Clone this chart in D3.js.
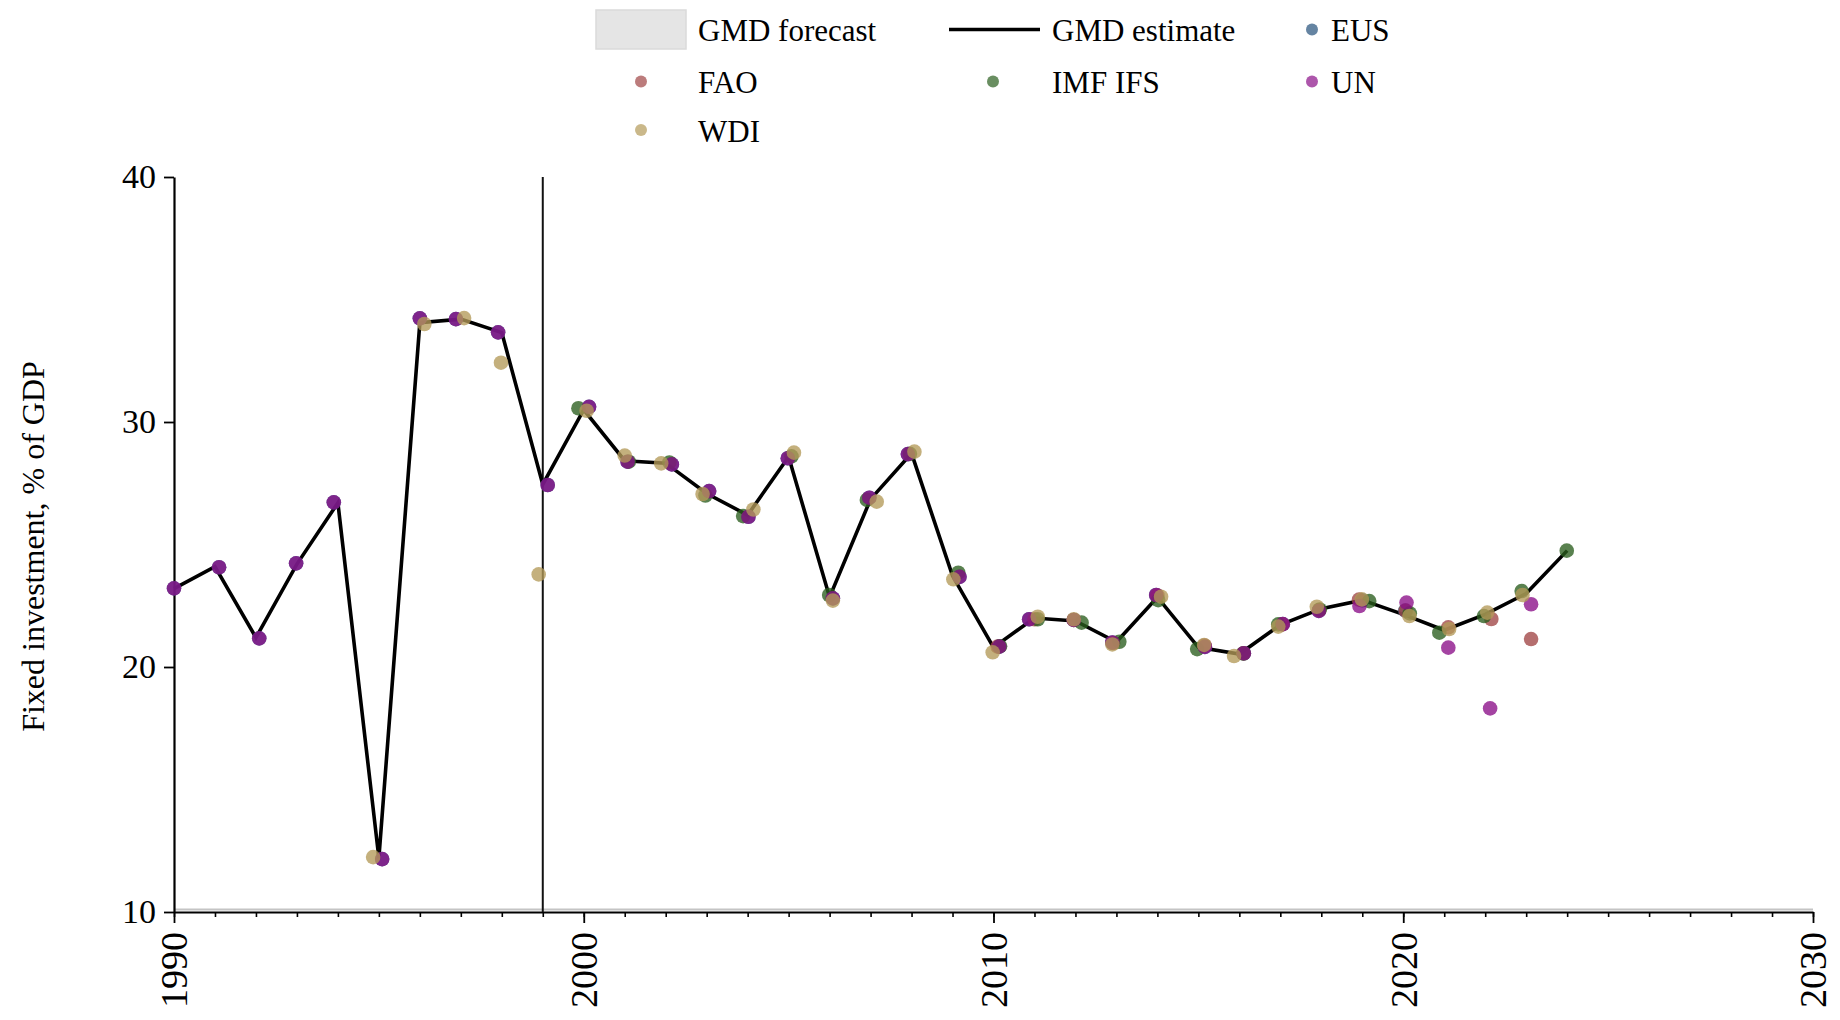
<!DOCTYPE html>
<html>
<head>
<meta charset="utf-8">
<script src="https://cdn.jsdelivr.net/npm/d3@7"></script>
<style>
  html, body { margin: 0; padding: 0; background: #ffffff; }
  svg { display: block; }
  svg text { font-family: "Liberation Serif", "Times New Roman", Times, Tinos, "Nimbus Roman", "DejaVu Serif", "Noto Serif", serif !important; }
</style>
</head>
<body>
<svg id="chart" width="1840" height="1020"></svg>
<script>
// ---------- DATA ----------
const xTickLabels = [1990, 2000, 2010, 2020, 2030];
const yTickLabels = [10, 20, 30, 40];
const forecastStartYear = 1999;

const gmdYears = [1990,1991,1992,1993,1994,1995,1996,1997,1998,1999,2000,2001,2002,2003,2004,2005,2006,2007,2008,2009,2010,2011,2012,2013,2014,2015,2016,2017,2018,2019,2020,2021,2022,2023,2024];
const gmdValues = [23.2,24.1,21.2,24.2,26.7,12.2,34.05,34.2,33.65,27.45,30.5,28.42,28.32,27.08,26.2,28.58,22.85,26.85,28.72,23.72,20.8,22.0,21.88,21.02,22.85,20.8,20.53,21.72,22.38,22.73,22.15,21.5,22.15,23.0,24.75];

// source observations (x positions as drawn, slightly jittered around the year)
const eusX = [1990.0,1991.1,1992.08,1992.98,1993.9,1995.08,1996.0,1996.88,1997.91,1999.12,2000.13,2001.07,2002.15,2003.06,2004.02,2004.98,2006.08,2006.97,2007.91,2009.17,2010.14,2010.87,2011.96,2012.9,2013.97,2015.16,2016.11,2017.06,2017.94,2019.0,2020.05];
const eusY = [23.21,24.07,21.17,24.23,26.72,12.16,34.23,34.2,33.66,27.43,30.62,28.38,28.27,27.18,26.13,28.52,22.8,26.91,28.69,23.68,20.83,21.95,21.92,21.0,22.94,20.82,20.56,21.75,22.29,22.72,22.3];

const faoX = [2010.1,2011.0,2011.96,2012.92,2014.0,2015.15,2016.1,2017.05,2017.95,2018.92,2020.06,2021.1,2022.15,2023.12];
const faoY = [20.83,21.95,21.92,20.98,22.92,20.88,20.56,21.74,22.32,22.75,22.3,21.62,21.96,21.14];

const imfX = [1999.87,2001.1,2002.09,2002.97,2003.89,2005.07,2005.99,2006.91,2007.96,2009.14,2010.16,2011.08,2012.15,2013.07,2014.02,2014.97,2016.1,2016.95,2017.96,2019.17,2020.16,2020.88,2021.97,2022.89,2023.99];
const imfY = [30.56,28.38,28.35,27.0,26.16,28.6,22.94,26.82,28.7,23.85,20.85,21.95,21.81,21.03,22.73,20.73,20.55,21.74,22.35,22.69,22.19,21.4,22.08,23.1,24.75];

const unX = [1990.0,1991.1,1992.08,1992.98,1993.9,1995.08,1996.0,1996.88,1997.91,1999.12,2000.13,2001.07,2002.15,2003.06,2004.02,2004.98,2006.08,2006.97,2007.91,2009.17,2010.14,2010.87,2011.96,2012.9,2013.97,2015.16,2016.11,2017.06,2017.94,2018.93,2020.08,2021.1,2022.12,2023.12];
const unY = [23.21,24.07,21.17,24.23,26.72,12.16,34.23,34.2,33.66,27.43,30.62,28.38,28.27,27.18,26.13,28.52,22.8,26.91,28.69,23.68,20.83,21.95,21.92,21.0,22.94,20.82,20.56,21.75,22.29,22.49,22.63,20.79,18.31,22.56];

const wdiX = [1994.86,1996.11,1997.08,1997.98,1998.9,2000.07,2001.0,2001.89,2002.9,2004.14,2005.13,2006.08,2007.15,2008.07,2009.02,2009.98,2011.08,2011.96,2012.9,2014.09,2015.14,2015.87,2016.95,2017.89,2018.99,2020.15,2021.12,2022.05,2022.91];
const wdiY = [12.24,34.0,34.24,32.42,23.78,30.46,28.63,28.31,27.06,26.43,28.75,22.71,26.75,28.79,23.58,20.6,22.05,21.95,20.92,22.87,20.9,20.45,21.65,22.46,22.76,22.08,21.55,22.22,22.94];

const sourceNames = ["EUS", "FAO", "IMF IFS", "UN", "WDI"];
const sourceColors = ["#24507a", "#a04545", "#2a5e1e", "#8a0e88", "#b39a59"];

// ---------- CHART ----------
const svg = d3.select("#chart");
const x = d3.scaleLinear().domain([1990, 2030]).range([174, 1813]);
const y = d3.scaleLinear().domain([10, 40]).range([912, 177]);

// faint forecast band trace along the baseline
svg.append("line")
  .attr("x1", x(1990)).attr("x2", x(2030))
  .attr("y1", y(10) - 2.5).attr("y2", y(10) - 2.5)
  .attr("stroke", "#c4c4c4").attr("stroke-width", 2);

// x axis minor ticks
const minorYears = d3.range(1990, 2031);
svg.append("g")
  .attr("transform", `translate(0,${y(10)})`)
  .call(d3.axisBottom(x).tickValues(minorYears).tickSize(5).tickFormat(""))
  .call(g => g.select(".domain").remove())
  .call(g => g.selectAll(".tick line").attr("stroke", "#000").attr("stroke-width", 1.6));

// x axis major
const xAxis = svg.append("g")
  .attr("transform", `translate(0,${y(10)})`)
  .call(d3.axisBottom(x).tickValues(xTickLabels).tickSize(11).tickSizeOuter(0).tickFormat(d3.format("d")));
xAxis.attr("font-family", null);
xAxis.select(".domain").attr("stroke", "#000").attr("stroke-width", 2.2);
xAxis.selectAll(".tick line").attr("stroke", "#000").attr("stroke-width", 1.8);
xAxis.selectAll(".tick text")
  .attr("fill", "#000")
  .style("font-size", "38px")
  .attr("transform", "rotate(-90)")
  .attr("text-anchor", "end")
  .attr("x", -20).attr("y", 0).attr("dy", "0.34em");

// y axis
const yAxis = svg.append("g")
  .attr("transform", `translate(${x(1990)},0)`)
  .call(d3.axisLeft(y).tickValues(yTickLabels).tickSize(10).tickSizeOuter(0).tickPadding(8));
yAxis.attr("font-family", null);
yAxis.select(".domain").attr("stroke", "#000").attr("stroke-width", 2.2);
yAxis.selectAll(".tick line").attr("stroke", "#000").attr("stroke-width", 1.8);
yAxis.selectAll(".tick text")
  .attr("fill", "#000")
  .style("font-size", "34px");

// y axis title
svg.append("text")
  .attr("transform", `translate(44,${(y(10) + y(40)) / 2 + 2}) rotate(-90)`)
  .attr("text-anchor", "middle")
  .style("font-size", "32px")
  .attr("fill", "#000")
  .text("Fixed investment, % of GDP");

// vertical marker line
svg.append("line")
  .attr("x1", x(forecastStartYear)).attr("x2", x(forecastStartYear))
  .attr("y1", y(40)).attr("y2", y(10))
  .attr("stroke", "#111").attr("stroke-width", 2);

// GMD estimate line
const gmdData = gmdYears.map((yr, i) => [yr, gmdValues[i]]);
svg.append("path")
  .datum(gmdData)
  .attr("fill", "none")
  .attr("stroke", "#000")
  .attr("stroke-width", 3.6)
  .attr("stroke-linejoin", "miter")
  .attr("d", d3.line().x(d => x(d[0])).y(d => y(d[1])));

// source dots
const sources = [
  [eusX, eusY], [faoX, faoY], [imfX, imfY], [unX, unY], [wdiX, wdiY]
];
sources.forEach(([xs, ys], si) => {
  svg.append("g")
    .selectAll("circle")
    .data(xs.map((v, i) => [v, ys[i]]))
    .join("circle")
    .attr("cx", d => x(d[0]))
    .attr("cy", d => y(d[1]))
    .attr("r", 7.3)
    .attr("fill", sourceColors[si])
    .attr("fill-opacity", 0.78);
});

// ---------- LEGEND ----------
const lg = svg.append("g").style("font-size", "31px").attr("fill", "#000");
// GMD forecast
lg.append("rect").attr("x", 596).attr("y", 10).attr("width", 90).attr("height", 39)
  .attr("fill", "#e5e5e5").attr("stroke", "#dadada").attr("stroke-width", 1.5);
lg.append("text").attr("x", 698).attr("y", 41).text("GMD forecast");
// GMD estimate
lg.append("line").attr("x1", 949).attr("x2", 1040).attr("y1", 29.5).attr("y2", 29.5)
  .attr("stroke", "#000").attr("stroke-width", 3.6);
lg.append("text").attr("x", 1052).attr("y", 41).text("GMD estimate");

const legendPos = [
  [1312, 29.5, 1331, 41],   // EUS
  [641, 81.5, 698, 93],     // FAO
  [993, 81.5, 1052, 93],    // IMF IFS
  [1312, 81.5, 1331, 93],   // UN
  [641, 130, 698, 141.5]    // WDI
];
sourceNames.forEach((name, i) => {
  const p = legendPos[i];
  lg.append("circle").attr("cx", p[0]).attr("cy", p[1]).attr("r", 6)
    .attr("fill", sourceColors[i]).attr("fill-opacity", 0.7);
  lg.append("text").attr("x", p[2]).attr("y", p[3]).text(name);
});
</script>
</body>
</html>
